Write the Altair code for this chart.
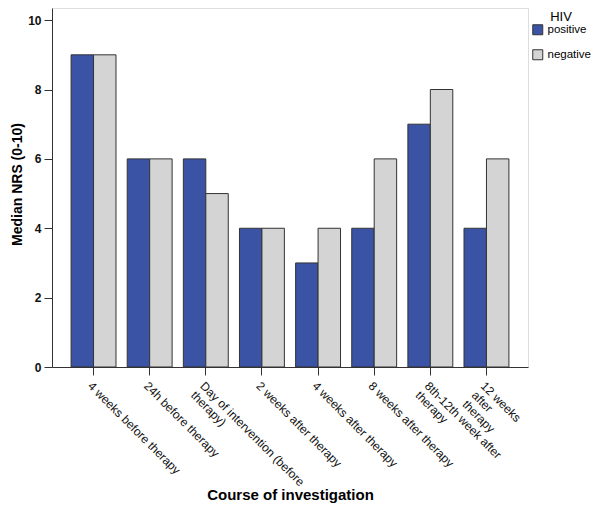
import altair as alt
import pandas as pd

categories = [
    "4 weeks before therapy",
    "24h before therapy",
    "Day of intervention (before\ntherapy)",
    "2 weeks after therapy",
    "4 weeks after therapy",
    "8 weeks after therapy",
    "8th-12th week after\ntherapy",
    "12 weeks\nafter\ntherapy",
]
groups = ["positive", "negative"]
positive = [9, 6, 6, 4, 3, 4, 7, 4]
negative = [9, 6, 5, 4, 4, 6, 8, 6]

rows = []
for c, p, n in zip(categories, positive, negative):
    rows.append({"cat": c, "HIV": "positive", "val": p})
    rows.append({"cat": c, "HIV": "negative", "val": n})
df = pd.DataFrame(rows)

FONT = "Liberation Sans"

chart = alt.Chart(df).mark_bar(stroke="#333333", strokeWidth=1).encode(
    x=alt.X(
        "cat:N",
        sort=categories,
        scale=alt.Scale(paddingInner=0.2, paddingOuter=0.34),
        axis=alt.Axis(
            title="Course of investigation",
            labelAngle=45,
            labelAlign="left",
            labelBaseline="top",
            labelExpr="split(datum.label, '\\n')",
            labelLineHeight=13,
            labelFontSize=12,
            labelPadding=5,
            labelColor="#111111",
            tickSize=8,
            tickColor="#333333",
            domainColor="#333333",
            titleFontSize=15,
            titleFontWeight="bold",
            titleY=132,
            titleBaseline="alphabetic",
            labelLimit=300,
        ),
    ),
    xOffset=alt.XOffset("HIV:N", sort=groups),
    y=alt.Y(
        "val:Q",
        scale=alt.Scale(domain=[0, 10.35], nice=False),
        axis=alt.Axis(
            title="Median NRS (0-10)",
            values=[0, 2, 4, 6, 8, 10],
            grid=False,
            tickSize=8,
            tickColor="#333333",
            domainColor="#333333",
            labelFontSize=12,
            labelFontWeight="bold",
            labelColor="#111111",
            labelPadding=3,
            titleFontSize=14,
            titleFontWeight="bold",
            titleX=-35,
            titleY=176,
            titleBaseline="middle",
        ),
    ),
    color=alt.Color(
        "HIV:N",
        sort=groups,
        scale=alt.Scale(domain=groups, range=["#3B53A5", "#D4D4D4"]),
        legend=alt.Legend(
            title="HIV",
            orient="none",
            legendX=480,
            legendY=3,
            symbolType="square",
            symbolSize=100,
            symbolStrokeColor="#333333",
            symbolStrokeWidth=1,
            labelFontSize=11.5,
            labelOffset=4,
            titleFontSize=13,
            titleFontWeight="normal",
            titleAnchor="middle",
            titlePadding=0,
            rowPadding=10,
        ),
    ),
).properties(
    width=476,
    height=359,
    autosize=alt.AutoSizeParams(type="none"),
    padding={"left": 44, "top": 0, "right": 64, "bottom": 136},
).configure_view(
    fill="#F0F0F0",
    stroke="#444444",
    strokeWidth=1,
).configure(
    font=FONT,
    background="white",
)

chart.save("out.html", embed_options={"renderer": "svg", "actions": False})
